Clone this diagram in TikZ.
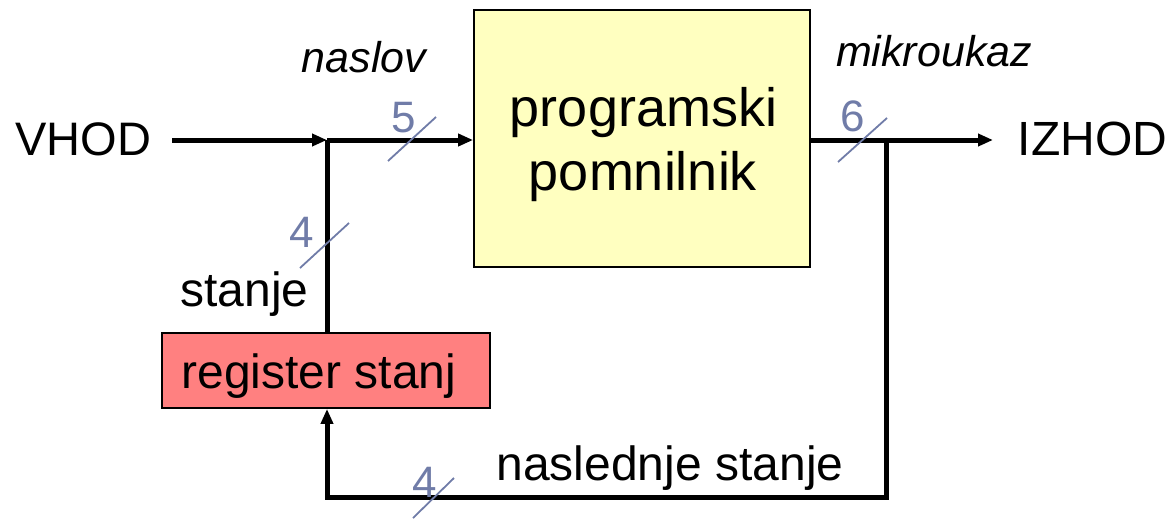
\documentclass[tikz,border=0pt]{standalone}
\usepackage{fontspec}
\setmainfont{Liberation Sans}
\usetikzlibrary{arrows.meta}
\definecolor{memfill}{RGB}{255,255,192}
\definecolor{regfill}{RGB}{255,128,128}
\definecolor{buscol}{RGB}{112,124,168}
\begin{document}
\begin{tikzpicture}[x=1pt,y=-1pt,
  wire/.style={line width=5pt, line join=miter},
  sig/.style={wire, -{Triangle[length=15pt,width=12pt]}},
  blk/.style={draw, line width=1.8pt, inner sep=0pt},
  lbl/.style={font=\fontsize{48}{52}\selectfont, inner sep=0pt, anchor=base},
  biglbl/.style={font=\fontsize{54}{60}\selectfont, inner sep=0pt, anchor=base},
  ital/.style={font=\fontsize{43}{46}\selectfont\itshape, inner sep=0pt, anchor=base},
  busw/.style={buscol, line width=1.8pt},
  busn/.style={text=buscol, font=\fontsize{44}{48}\selectfont, inner sep=0pt, anchor=base}]
\useasboundingbox (0,0) rectangle (1169,520);

% blocks
\node[blk, fill=memfill, minimum width=336pt, minimum height=257pt] (mem) at (642,138.5) {};
\node[blk, fill=regfill, minimum width=328pt, minimum height=75pt] (reg) at (326,370.5) {};

% block texts
\node[biglbl] (memA) at (643.5,126.7) {programski};
\node[biglbl] (memB) at (643,190.7) {pomnilnik};
\node[lbl] (regtxt) at (319,388) {register stanj};

% wiring points
\coordinate (vin) at (172,140);
\coordinate (jin) at (327,140);
\coordinate (jout) at (886,140);
\coordinate (oend) at (993,140);
\coordinate (bR) at (886,497);
\coordinate (bL) at (327,497);

% signal paths
\draw[sig] (vin) -- (jin);
\draw[sig] (jin) -- (jin -| mem.west);
\draw[wire] (jin |- reg.north) -- (jin);
\draw[sig] (mem.east |- jout) -- (oend);
\draw[sig] (jout) -- (bR) -- (bL) -- (bL |- reg.south);

% bus width marks
\draw[busw] (388,161) -- (436,117);
\draw[busw] (838,162) -- (887,118);
\draw[busw] (300,268) -- (349,223);
\draw[busw] (413,518) -- (454,478);
\node[busn] (w5) at (404,132) {5};
\node[busn] (w6) at (853,131.7) {6};
\node[busn] (w4a) at (302,247.7) {4};
\node[busn] (w4b) at (425,497) {4};

% signal names
\node[lbl, font=\fontsize{47}{52}\selectfont] (vhod) at (83.5,155) {VHOD};
\node[lbl] (izhod) at (1092.5,155) {IZHOD};
\node[ital] (naslov) at (364,72.7) {naslov};
\node[ital] (mikro) at (934,66.7) {mikroukaz};
\node[lbl] (stanje) at (244.5,306) {stanje};
\node[lbl] (nasl) at (670,480) {naslednje stanje};
\end{tikzpicture}
\end{document}
